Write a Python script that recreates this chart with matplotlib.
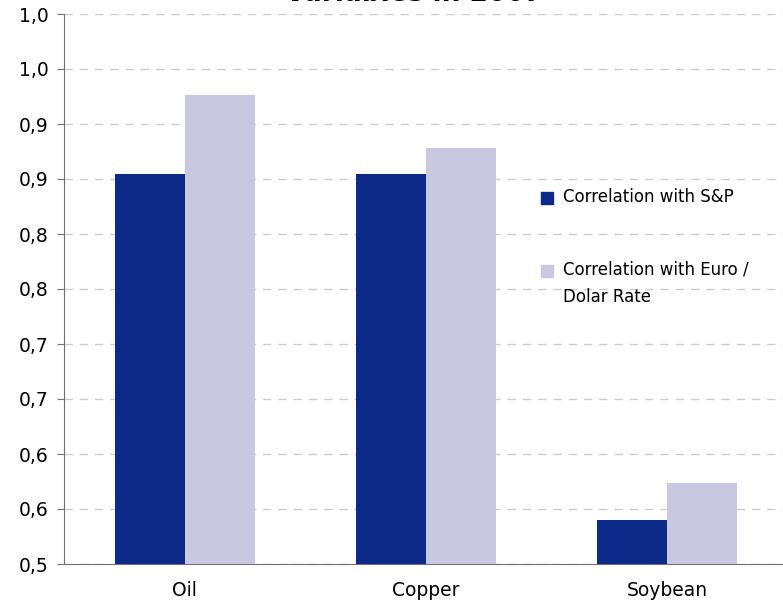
import matplotlib.pyplot as plt
from matplotlib.patches import Rectangle
import numpy as np

categories = ["Oil", "Copper", "Soybean"]
corr_sp = [0.855, 0.855, 0.540]
corr_euro = [0.926, 0.878, 0.574]
tick_vals = [0.5, 0.55, 0.6, 0.65, 0.7, 0.75, 0.8, 0.85, 0.9, 0.95, 1.0]
tick_labels = ["0,5", "0,6", "0,6", "0,7", "0,7", "0,8", "0,8", "0,9", "0,9", "1,0", "1,0"]
series_names = ["Correlation with S&P", "Correlation with Euro /\nDolar Rate"]
colors = ["#0d2a88", "#cac8e0"]

plt.rcParams['font.family'] = ['DejaVu Sans']

fig = plt.figure(figsize=(7.83, 6.15), dpi=100)
ax = fig.add_axes([64/783, 51/615, 724/783, 550/615])

x = np.arange(len(categories))
w = 0.29
ax.bar(x - w/2, corr_sp, w, color=colors[0], zorder=3)
ax.bar(x + w/2, corr_euro, w, color=colors[1], zorder=3)

ax.set_xlim(-0.5, 2.5)
ax.set_ylim(0.5, 1.0)
ax.set_yticks(tick_vals)
ax.set_yticklabels(tick_labels, fontsize=13.5)
ax.set_xticks(x)
ax.set_xticklabels(categories, fontsize=13.5)
ax.tick_params(axis='x', length=0, pad=12)
ax.tick_params(axis='y', length=5, color="#707070", pad=6)
ax.yaxis.grid(True, linestyle=(0, (6, 5)), color="#cccccc", linewidth=1)
ax.set_axisbelow(True)
for s in ["top", "right"]:
    ax.spines[s].set_visible(False)
ax.spines["left"].set_color("#707070")
ax.spines["bottom"].set_color("#707070")

# legend drawn by hand so the square sits on the first text line
leg_y = [198, 271]
for name, col, yy in zip(series_names, colors, leg_y):
    fig.patches.append(Rectangle((541/783, 1 - (yy + 6)/615), 12/783, 12/615,
                                 transform=fig.transFigure, color=col))
    fig.text(563/783, 1 - (yy - 10)/615, name, ha="left", va="top",
             fontsize=12, linespacing=1.65)

# title sits mostly above the canvas, only its bottom edge shows
fig.text(0.529, 1 - 1/615, "Variables in 2007", ha="center", va="baseline",
         fontsize=19, fontweight="bold")

fig.savefig("out.png", dpi=100)
